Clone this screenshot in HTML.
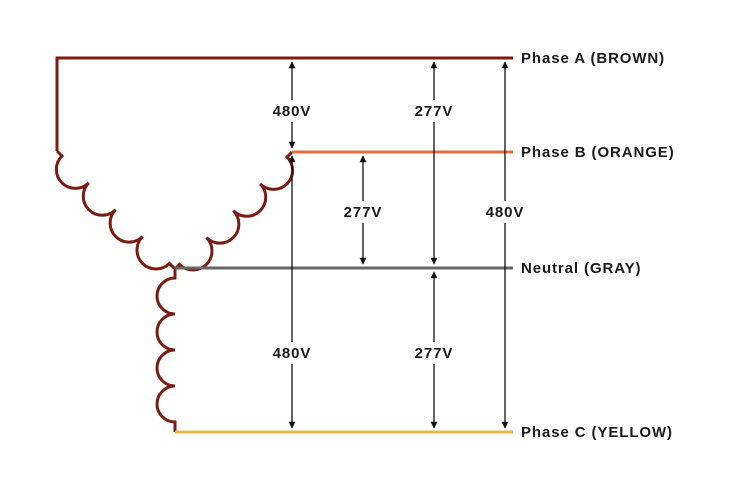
<!DOCTYPE html>
<html><head><meta charset="utf-8"><style>
body{margin:0;background:#fff}
svg{display:block}
text{font-family:"Liberation Sans",sans-serif;font-size:15px;font-weight:bold;letter-spacing:0.9px;fill:#1a1a1a}
</style></head><body>
<svg width="734" height="491" viewBox="0 0 734 491" xmlns="http://www.w3.org/2000/svg">
<defs>
<marker id="ah" viewBox="0 0 10 10" refX="9" refY="5" markerWidth="7" markerHeight="7" orient="auto-start-reverse" markerUnits="userSpaceOnUse">
<path d="M0,0 L10,5 L0,10 z" fill="#111"/></marker>
</defs>
<g fill="none" stroke-width="3">
<path d="M513,58 H57 V151" stroke="#7a1c12"/>
<g transform="translate(57,151) rotate(45)"><path d="M0,0 h7 a19 19 0 0 0 38 0 a19 19 0 0 0 38 0 a19 19 0 0 0 38 0 a19 19 0 0 0 38 0 h7" stroke="#7a1c12"/></g>
<g transform="translate(292,152) rotate(135)"><path d="M0,0 h7 a19 19 0 0 1 38 0 a19 19 0 0 1 38 0 a19 19 0 0 1 38 0 a19 19 0 0 1 38 0 h7" stroke="#7a1c12"/></g>
<g transform="translate(175,268) rotate(90)"><path d="M0,0 h10 a18 18 0 0 0 36 0 a18 18 0 0 0 36 0 a18 18 0 0 0 36 0 a18 18 0 0 0 36 0 h10" stroke="#7a1c12"/></g>
<path d="M292,152 H513" stroke="#e07038"/>
<path d="M175,268 H513" stroke="#666"/>
<path d="M175,432 H513" stroke="#e8b84a"/>
</g>
<g stroke="#111" stroke-width="1.3" fill="none">
<line x1="292" y1="100" x2="292" y2="62" marker-end="url(#ah)"/>
<line x1="292" y1="122" x2="292" y2="148" marker-end="url(#ah)"/>
<line x1="292" y1="342" x2="292" y2="156" marker-end="url(#ah)"/>
<line x1="292" y1="364" x2="292" y2="428" marker-end="url(#ah)"/>
<line x1="363" y1="201" x2="363" y2="156" marker-end="url(#ah)"/>
<line x1="363" y1="223" x2="363" y2="264" marker-end="url(#ah)"/>
<line x1="434" y1="100" x2="434" y2="62" marker-end="url(#ah)"/>
<line x1="434" y1="122" x2="434" y2="264" marker-end="url(#ah)"/>
<line x1="434" y1="342" x2="434" y2="272" marker-end="url(#ah)"/>
<line x1="434" y1="364" x2="434" y2="428" marker-end="url(#ah)"/>
<line x1="505" y1="201" x2="505" y2="62" marker-end="url(#ah)"/>
<line x1="505" y1="223" x2="505" y2="428" marker-end="url(#ah)"/>
</g>
<g text-anchor="middle">
<text x="292" y="116">480V</text>
<text x="292" y="358">480V</text>
<text x="363" y="217">277V</text>
<text x="434" y="116">277V</text>
<text x="434" y="358">277V</text>
<text x="505" y="217">480V</text>
</g>
<text x="521" y="63">Phase A (BROWN)</text>
<text x="521" y="157">Phase B (ORANGE)</text>
<text x="521" y="273">Neutral (GRAY)</text>
<text x="521" y="437">Phase C (YELLOW)</text>
</svg>
</body></html>
